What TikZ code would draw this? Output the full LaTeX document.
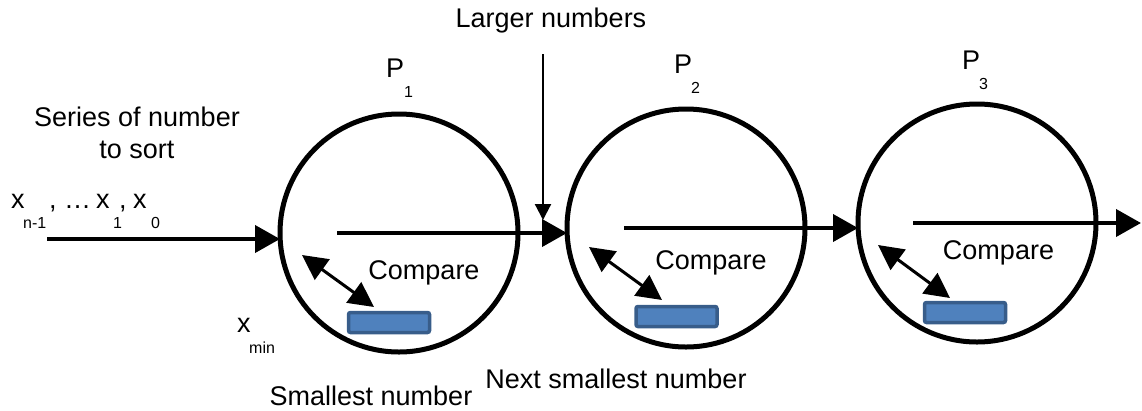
\documentclass[tikz,border=0pt]{standalone}
\usepackage{fontspec}
\setmainfont{Liberation Sans}
\usetikzlibrary{arrows.meta}
\definecolor{boxfill}{HTML}{4F81BD}
\definecolor{boxline}{HTML}{385D8A}
\tikzset{
  proc/.style={circle,draw=black,line width=5pt,minimum size=238pt,inner sep=0pt,outer sep=0pt},
  txt/.style={inner sep=0pt,font=\fontsize{27}{32}\selectfont},
  subtxt/.style={inner sep=0pt,font=\fontsize{16}{18}\selectfont},
  mainarr/.style={line width=4pt,-{Triangle[length=25pt,width=27pt]}},
  thinarr/.style={line width=2.2pt,-{Triangle[length=16pt,width=16pt]}},
  dblarr/.style={line width=3pt,{Triangle[length=25pt,width=25pt]}-{Triangle[length=25pt,width=25pt]}},
  memrect/.style={draw=boxline,fill=boxfill,line width=3.5pt,rounded corners=2pt,minimum width=81pt,minimum height=20pt,inner sep=0pt}
}
\begin{document}
\begin{tikzpicture}[x=1pt,y=-1pt]
\useasboundingbox (0,0) rectangle (1142,410);
% processors
\node[proc] (c1) at (399,233) {};
\node[proc] (c2) at (686,228) {};
\node[proc] (c3) at (977,223) {};
% memory boxes
\node[memrect] (m1) at (389,322.5) {};
\node[memrect] (m2) at (676.5,316.5) {};
\node[memrect] (m3) at (965,312.5) {};
% coordinates
\coordinate (in0) at (47,239);
\coordinate (a1) at (337,233);
\coordinate (a2) at (624,228);
\coordinate (a3) at (913,223);
\coordinate (out3) at (1141,223);
\coordinate (lt) at (543,54);
\coordinate (lb) at (543,220);
\coordinate (d1a) at (302,255);
\coordinate (d1b) at (374,307);
\coordinate (d2a) at (589,247);
\coordinate (d2b) at (662,300);
\coordinate (d3a) at (878,245);
\coordinate (d3b) at (950,298);
% connectors
\draw[mainarr] (in0) -- (in0 -| c1.west);
\draw[mainarr] (a1) -- (a1 -| c2.west);
\draw[mainarr] (a2) -- (a2 -| c3.west);
\draw[mainarr] (a3) -- (out3);
\draw[thinarr] (lt) -- (lb);
\draw[dblarr] (d1a) -- (d1b);
\draw[dblarr] (d2a) -- (d2b);
\draw[dblarr] (d3a) -- (d3b);
% texts
\node[txt,anchor=base] (larger) at (551,27) {Larger numbers};
\node[txt,anchor=base] (series) at (137,126) {Series of number};
\node[txt,anchor=base] (tosort) at (137,158) {to sort};
\node[txt,anchor=base west] (xn) at (11,208) {x};
\node[subtxt,anchor=base west] (sn) at (23,228) {n-1};
\node[txt,anchor=base west] (dots) at (49,208) {, …};
\node[txt,anchor=base west] (x1) at (96,208) {x};
\node[subtxt,anchor=base west] (s1) at (113,228) {1};
\node[txt,anchor=base west] (cm) at (119,208) {,};
\node[txt,anchor=base west] (x0) at (133,208) {x};
\node[subtxt,anchor=base west] (s0) at (151,228) {0};
\node[txt,anchor=base west] (xm) at (237,332) {x};
\node[subtxt,anchor=base west] (sm) at (249,353) {min};
\node[txt,anchor=base west] (p1) at (386,77) {P};
\node[subtxt,anchor=base west] (p1s) at (404,97) {1};
\node[txt,anchor=base west] (p2) at (674,73) {P};
\node[subtxt,anchor=base west] (p2s) at (691,93) {2};
\node[txt,anchor=base west] (p3) at (962,69) {P};
\node[subtxt,anchor=base west] (p3s) at (979,89) {3};
\node[txt,anchor=base] (cmp1) at (424,279) {Compare};
\node[txt,anchor=base] (cmp2) at (711,269) {Compare};
\node[txt,anchor=base] (cmp3) at (998.5,259) {Compare};
\node[txt,anchor=base] (small) at (371,405) {Smallest number};
\node[txt,anchor=base] (next) at (616,388) {Next smallest number};
\end{tikzpicture}
\end{document}
